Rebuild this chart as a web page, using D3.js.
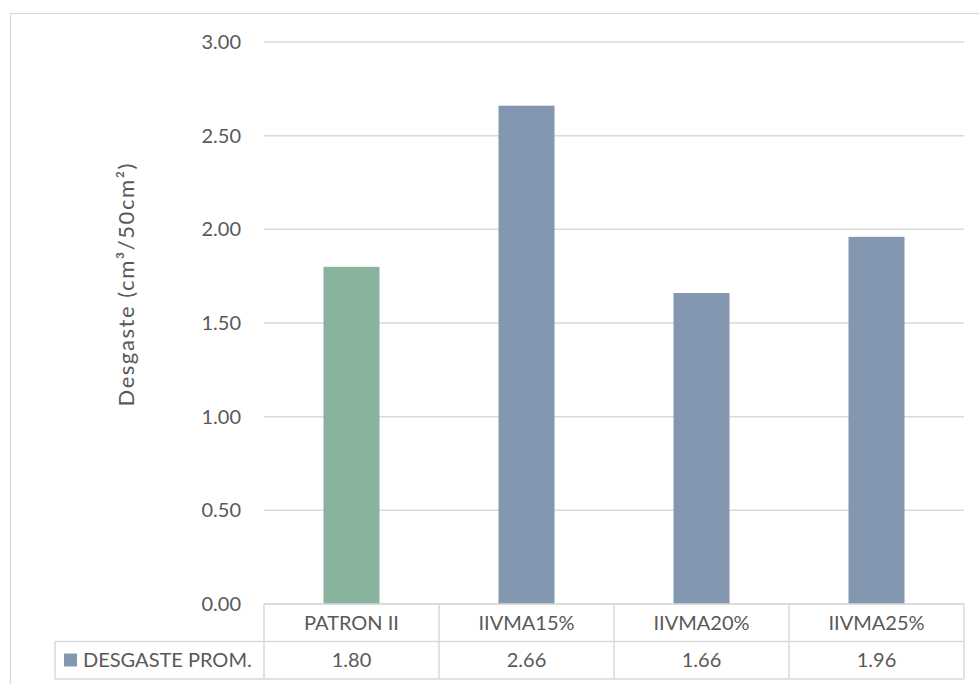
<!DOCTYPE html>
<html>
<head>
<meta charset="utf-8">
<script src="https://cdn.jsdelivr.net/npm/d3@7"></script>
<style>
  html, body { margin: 0; padding: 0; background: #ffffff; }
  svg { display: block; }
  text { font-family: Lato, "Open Sans", sans-serif; fill: #595959; }
</style>
</head>
<body>
<svg id="chart" width="979" height="684"></svg>
<script>
// Abrasion wear per mix
const categories = ["PATRON II", "IIVMA15%", "IIVMA20%", "IIVMA25%"];
const desgasteProm = [1.80, 2.66, 1.66, 1.96];
const yTicks = [0, 0.5, 1.0, 1.5, 2.0, 2.5, 3.0];
const seriesName = "DESGASTE PROM.";
const yTitle = "Desgaste  (cm³/50cm²)";

const svg = d3.select("#chart");
const gridColor = "#d9d9d9";
const seriesColor = "#8497b0";
const baseColor = "#88b49e";

const plot = { left: 264, right: 964, top: 42, bottom: 604 };
const rowH = 37.5;
const legendLeft = 55;

// outer frame of the chart area
svg.append("rect")
  .attr("x", 10.5).attr("y", 13.5)
  .attr("width", 1000).attr("height", 700)
  .attr("fill", "none").attr("stroke", gridColor).attr("stroke-width", 1.2);

const x = d3.scaleBand().domain(categories).range([plot.left, plot.right]).padding(0);
const y = d3.scaleLinear().domain([0, 3]).range([plot.bottom, plot.top]);

// horizontal gridlines
svg.append("g").selectAll("line").data(yTicks).join("line")
  .attr("x1", plot.left).attr("x2", plot.right)
  .attr("y1", d => y(d)).attr("y2", d => y(d))
  .attr("stroke", gridColor).attr("stroke-width", 1.5);

// y axis labels
const yAxis = d3.axisLeft(y).tickValues(yTicks).tickFormat(d3.format(".2f")).tickSize(0).tickPadding(23);
const gy = svg.append("g").attr("transform", `translate(${plot.left},0)`).call(yAxis);
gy.select(".domain").remove();
gy.selectAll("text").style("font-size", "20px").attr("fill", "#595959")
  .style("font-family", "Lato, 'Open Sans', sans-serif");

// y axis title
svg.append("text")
  .attr("transform", `translate(134,285) rotate(-90)`)
  .attr("text-anchor", "middle")
  .attr("textLength", 243)
  .attr("lengthAdjust", "spacing")
  .style("font-size", "22px")
  .text(yTitle);

// bars
const barW = x.bandwidth() * 0.32;
svg.append("g").selectAll("rect").data(categories).join("rect")
  .attr("x", d => x(d) + (x.bandwidth() - barW) / 2)
  .attr("width", barW)
  .attr("y", (d, i) => y(desgasteProm[i]))
  .attr("height", (d, i) => y(0) - y(desgasteProm[i]))
  .attr("fill", (d, i) => i === 0 ? baseColor : seriesColor);

// data table
const tbl = svg.append("g").attr("fill", "none").attr("stroke", gridColor).attr("stroke-width", 1.5);
const t0 = plot.bottom, t1 = t0 + rowH, t2 = t1 + rowH;
tbl.append("line").attr("x1", plot.left).attr("x2", plot.right).attr("y1", t0).attr("y2", t0);
tbl.append("line").attr("x1", legendLeft).attr("x2", plot.right).attr("y1", t1).attr("y2", t1);
tbl.append("line").attr("x1", legendLeft).attr("x2", plot.right).attr("y1", t2).attr("y2", t2);
tbl.append("line").attr("x1", legendLeft).attr("x2", legendLeft).attr("y1", t1).attr("y2", t2);
tbl.selectAll("line.v").data(categories.concat([null])).join("line").attr("class", "v")
  .attr("x1", (d, i) => i < categories.length ? x(d) : plot.right)
  .attr("x2", (d, i) => i < categories.length ? x(d) : plot.right)
  .attr("y1", t0).attr("y2", t2);

svg.append("g").selectAll("text").data(categories).join("text")
  .attr("x", d => x(d) + x.bandwidth() / 2)
  .attr("y", t0 + rowH / 2)
  .attr("dy", "0.36em")
  .attr("text-anchor", "middle")
  .style("font-size", "20px")
  .text(d => d);

svg.append("g").selectAll("text").data(categories).join("text")
  .attr("x", d => x(d) + x.bandwidth() / 2)
  .attr("y", t1 + rowH / 2)
  .attr("dy", "0.36em")
  .attr("text-anchor", "middle")
  .style("font-size", "20px")
  .text((d, i) => d3.format(".2f")(desgasteProm[i]));

// legend key in the table
svg.append("rect")
  .attr("x", 64).attr("y", t1 + 12).attr("width", 13).attr("height", 13)
  .attr("fill", seriesColor);
svg.append("text")
  .attr("x", 83).attr("y", t1 + rowH / 2).attr("dy", "0.36em")
  .style("font-size", "20px")
  .text(seriesName);
</script>
</body>
</html>
